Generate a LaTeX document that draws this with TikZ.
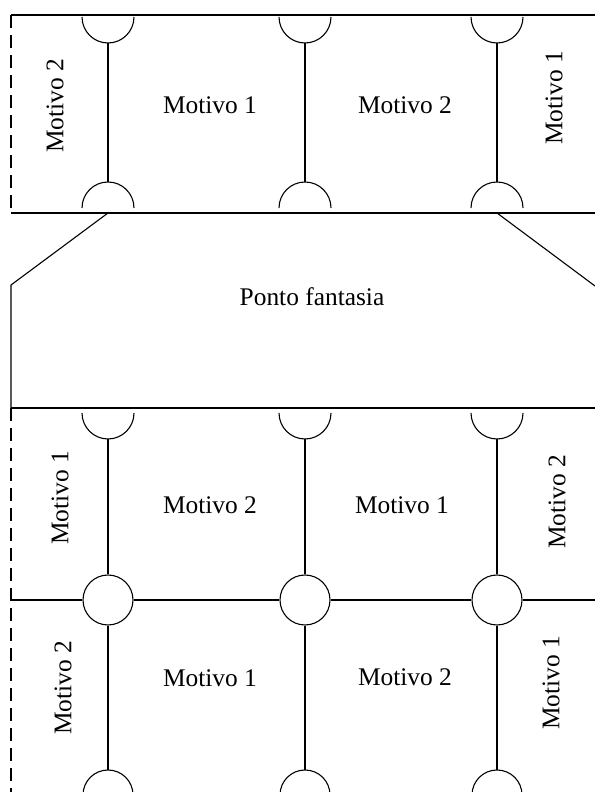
\documentclass[tikz,border=0pt]{standalone}
\usepackage{fontspec}
\setmainfont{Liberation Serif}
\usetikzlibrary{calc,positioning}

\begin{document}
\begin{tikzpicture}[x=1bp, y=1bp, line join=round, line width=1.1bp,
    motivo/.style={font=\fontsize{25.5}{30}\selectfont, inner sep=0pt},
    tracejado/.style={dash pattern=on 13bp off 7bp},
    junta/.style={circle, draw, inner sep=0pt, minimum size=50bp}]
  \useasboundingbox (0,0) rectangle (595,792);
  \clip (0,0) rectangle (595,792);
  % faixa superior
  \draw (11,777) -- (595,777);
  \draw (11,579) -- (595,579);
  \draw[tracejado] (11,777) -- (11,579);
  \foreach \x in {108,305,497} {
    \draw (\x-26,775) arc (180:360:26);
    \draw (\x+26,584) arc (0:180:26);
    \draw (\x,749) -- (\x,610);
  }
  \node[motivo, rotate=90] (m2a) at (55,686) {Motivo 2};
  \node[motivo] (m1a) at (210,687) {Motivo 1};
  \node[motivo] (m2b) at (405,687) {Motivo 2};
  \node[motivo, rotate=90] (m1b) at (554,694) {Motivo 1};
  % ponto fantasia
  \coordinate (pe) at (11,507);
  \coordinate (pd) at (595,506);
  \draw (108,579) -- (pe) -- (11,384);
  \draw (497,579) -- (pd);
  \draw (11,384) -- (595,384);
  \node[motivo] (pf) at (312,495) {Ponto fantasia};
  % faixa inferior
  \draw[tracejado] (11,384) -- (11,0);
  \node[junta] (j1) at (108,192) {};
  \node[junta] (j2) at (305,192) {};
  \node[junta] (j3) at (497,192) {};
  \coordinate (he) at (11,192);
  \coordinate (hd) at (595,192);
  \draw (he) -- (j1) -- (j2) -- (j3) -- (hd);
  \foreach \x/\j in {108/j1,305/j2,497/j3} {
    \draw (\x-26,379) arc (180:360:26);
    \draw (\x,353) -- (\j);
    \draw (\j) -- (\x,22);
    \draw (\x+25,-3) arc (0:180:25);
  }
  \node[motivo, rotate=90] (m1c) at (60,294) {Motivo 1};
  \node[motivo] (m2c) at (210,287) {Motivo 2};
  \node[motivo] (m1d) at (402,287) {Motivo 1};
  \node[motivo, rotate=90] (m2d) at (557,290) {Motivo 2};
  \node[motivo, rotate=90] (m2e) at (63,104) {Motivo 2};
  \node[motivo] (m1e) at (210,114) {Motivo 1};
  \node[motivo] (m2f) at (405,115) {Motivo 2};
  \node[motivo, rotate=90] (m1f) at (551,109) {Motivo 1};
\end{tikzpicture}
\end{document}
